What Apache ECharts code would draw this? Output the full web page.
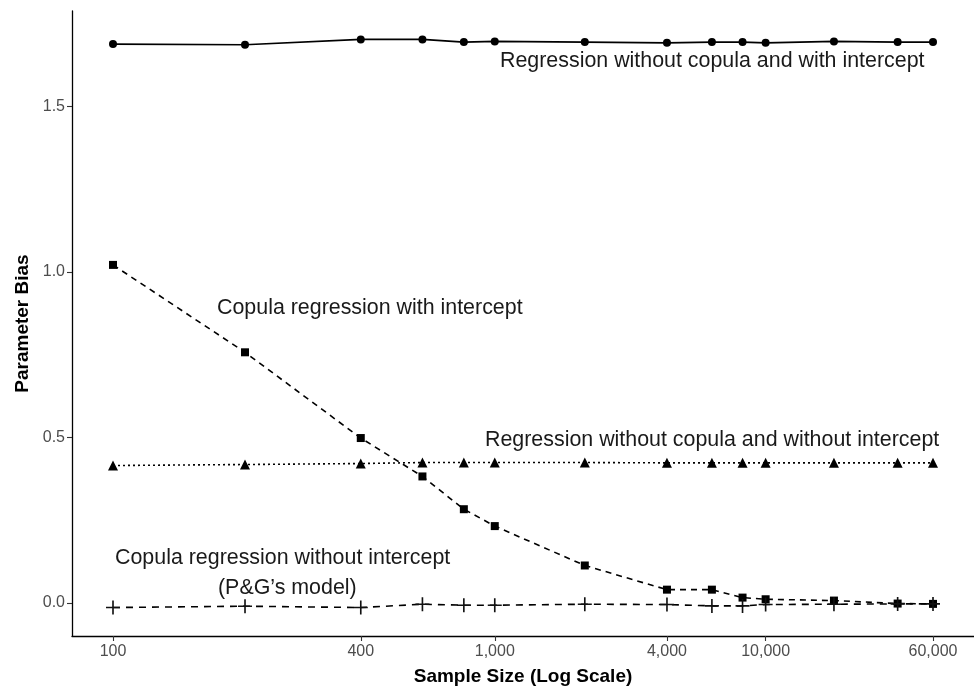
<!DOCTYPE html>
<html>
<head>
<meta charset="utf-8">
<script src="https://cdn.jsdelivr.net/npm/echarts@6/dist/echarts.min.js"></script>
<style>
html,body{margin:0;padding:0;background:#fff;}
#chart{width:974px;height:691px;}
</style>
</head>
<body>
<div id="chart"></div>
<script>
// Sample sizes (x values)
const sampleSizes = [100, 200, 400, 600, 800, 1000, 2000, 4000, 6000, 8000, 10000, 20000, 40000, 60000];
// Tick labels on the axes
const xTicks = [100, 400, 1000, 4000, 10000, 60000];
const yTicks = [0, 0.5, 1.0, 1.5];

// Series values (parameter bias)
const regWithIntercept = [1.688, 1.686, 1.702, 1.702, 1.694, 1.696, 1.694, 1.692, 1.694, 1.694, 1.692, 1.696, 1.694, 1.694];
const copulaWithIntercept = [1.021, 0.757, 0.498, 0.382, 0.283, 0.232, 0.113, 0.040, 0.040, 0.016, 0.011, 0.007, -0.002, -0.003];
const regWithoutIntercept = [0.415, 0.418, 0.421, 0.424, 0.424, 0.424, 0.424, 0.423, 0.423, 0.423, 0.423, 0.423, 0.423, 0.423];
const copulaWithoutIntercept = [-0.014, -0.010, -0.014, -0.004, -0.007, -0.007, -0.004, -0.005, -0.009, -0.009, -0.005, -0.004, -0.003, -0.003];

// axis transform (matches the reference spacing of the "log scale" axis)
const tf = n => Math.log(Math.log(n));
const fmtNum = n => n.toLocaleString('en-US');
const pairs = arr => sampleSizes.map((n, i) => [tf(n), arr[i]]);

const xMinT = tf(100), xMaxT = tf(60000);
const xPad = (xMaxT - xMinT) * 0.05;

const plusPath = 'path://M5.3,0h1.4v5.3h5.3v1.4h-5.3v5.3h-1.4v-5.3h-5.3v-1.4h5.3z';

const chart = echarts.init(document.getElementById('chart'), null, {renderer: 'canvas'});
const FONT = 'Liberation Sans, Arial, sans-serif';
const textStyleAnn = {fontFamily: FONT, fontSize: 21.4, fill: '#1a1a1a'};

chart.setOption({
  animation: false,
  backgroundColor: '#fff',
  grid: {left: 72, right: 0, top: 11, bottom: 52, containLabel: false},
  xAxis: {
    type: 'value',
    min: xMinT - xPad,
    max: xMaxT + xPad,
    name: 'Sample Size (Log Scale)',
    nameLocation: 'middle',
    nameGap: 31,
    nameTextStyle: {fontFamily: FONT, fontSize: 19, fontWeight: 'bold', color: '#000'},
    axisLine: {onZero: false, lineStyle: {color: '#000', width: 1.3}},
    axisTick: {show: true, length: 5, lineStyle: {color: '#333', width: 1.1}, customValues: xTicks.map(tf)},
    axisLabel: {
      customValues: xTicks.map(tf),
      margin: 8,
      fontFamily: FONT,
      fontSize: 16,
      color: '#4d4d4d',
      formatter: v => {
        let best = xTicks[0];
        xTicks.forEach(t => { if (Math.abs(tf(t) - v) < Math.abs(tf(best) - v)) best = t; });
        return fmtNum(best);
      }
    },
    splitLine: {show: false}
  },
  yAxis: {
    type: 'value',
    min: -0.1,
    max: 1.788,
    name: 'Parameter Bias',
    nameLocation: 'middle',
    nameGap: 32,
    nameTextStyle: {fontFamily: FONT, fontSize: 19, fontWeight: 'bold', color: '#000'},
    axisLine: {show: true, onZero: false, lineStyle: {color: '#000', width: 1.3}},
    axisTick: {show: true, length: 5, lineStyle: {color: '#333', width: 1.1}, customValues: yTicks},
    axisLabel: {
      customValues: yTicks,
      margin: 7,
      fontFamily: FONT,
      fontSize: 16,
      color: '#4d4d4d',
      formatter: v => v.toFixed(1)
    },
    splitLine: {show: false}
  },
  series: [
    {
      name: 'Regression without copula and with intercept',
      type: 'line',
      data: pairs(regWithIntercept),
      symbol: 'circle', symbolSize: 8,
      itemStyle: {color: '#000'},
      lineStyle: {color: '#000', width: 1.7, type: 'solid'}
    },
    {
      name: 'Copula regression with intercept',
      type: 'line',
      data: pairs(copulaWithIntercept),
      symbol: 'rect', symbolSize: 8,
      itemStyle: {color: '#000'},
      lineStyle: {color: '#000', width: 1.6, type: [6, 5]}
    },
    {
      name: 'Regression without copula and without intercept',
      type: 'line',
      data: pairs(regWithoutIntercept),
      symbol: 'triangle', symbolSize: 10,
      itemStyle: {color: '#000'},
      lineStyle: {color: '#000', width: 1.6, type: [2, 3]}
    },
    {
      name: "Copula regression without intercept (P&G's model)",
      type: 'line',
      data: pairs(copulaWithoutIntercept),
      symbol: plusPath, symbolSize: 14,
      itemStyle: {color: '#111'},
      lineStyle: {color: '#000', width: 1.6, type: [7, 6]}
    }
  ],
  graphic: [
    {type: 'text', left: 500, top: 51, style: Object.assign({text: 'Regression without copula and with intercept'}, textStyleAnn)},
    {type: 'text', left: 217, top: 298, style: Object.assign({text: 'Copula regression with intercept'}, textStyleAnn)},
    {type: 'text', left: 485, top: 430, style: Object.assign({text: 'Regression without copula and without intercept'}, textStyleAnn)},
    {type: 'text', left: 115, top: 548, style: Object.assign({text: 'Copula regression without intercept'}, textStyleAnn)},
    {type: 'text', left: 218, top: 578, style: Object.assign({text: '(P&G\u2019s model)'}, textStyleAnn)}
  ]
});
</script>
</body>
</html>
